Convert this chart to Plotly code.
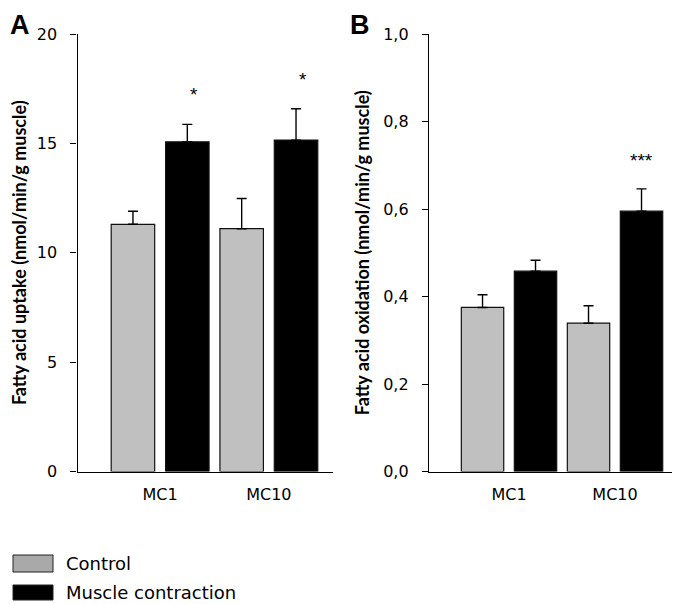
import plotly.graph_objects as go

# The page body adds an 8px margin, so the figure is sized to fit inside the window
OFF = 8
W, H = 680 - OFF, 604 - OFF

# ---- data ----
categories = ["MC1", "MC10"]
series_names = ["Control", "Muscle contraction"]
series_colors = ["#c0c0c0", "#000000"]

uptake_control = [11.3, 11.1]
uptake_control_err = [0.6, 1.38]
uptake_mc = [15.07, 15.15]
uptake_mc_err = [0.8, 1.43]
uptake_sig = ["*", "*"]

oxid_control = [0.375, 0.339]
oxid_control_err = [0.029, 0.040]
oxid_mc = [0.458, 0.595]
oxid_mc_err = [0.025, 0.051]
oxid_sig = ["", "***"]

uptake_ticks = [0, 5, 10, 15, 20]
oxid_ticks = [0.0, 0.2, 0.4, 0.6, 0.8, 1.0]
oxid_ticktext = ["0,0", "0,2", "0,4", "0,6", "0,8", "1,0"]


def px(x):
    return max(0.0, (x - OFF) / W)


def py(y):
    return min(1.0, 1 - (y - OFF) / H)


fig = go.Figure()

panels = [
    ("x", "y", uptake_control, uptake_control_err, uptake_mc, uptake_mc_err),
    ("x2", "y2", oxid_control, oxid_control_err, oxid_mc, oxid_mc_err),
]
for i, (xa, ya, c, ce, m, me) in enumerate(panels):
    for name, color, vals, errs in [
        (series_names[0], series_colors[0], c, ce),
        (series_names[1], series_colors[1], m, me),
    ]:
        fig.add_trace(go.Bar(
            x=categories, y=vals, name=name, xaxis=xa, yaxis=ya,
            marker=dict(color=color, line=dict(color="#111111", width=1.2)),
            error_y=dict(type="data", symmetric=False, array=errs,
                         arrayminus=[0] * len(errs), color="#000000",
                         thickness=1.4, width=5),
            showlegend=False,
        ))

fig.update_layout(
    width=W, height=H,
    margin=dict(l=0, r=0, t=0, b=0, autoexpand=False),
    paper_bgcolor="white", plot_bgcolor="white",
    barmode="group", bargap=0.0, bargroupgap=0.2,
    font=dict(family="Liberation Sans, Arial", color="#000000"),
)

ydom = [py(471.5), py(34)]
axis_common = dict(showline=True, linecolor="#000000", linewidth=1.3,
                   showgrid=False, zeroline=False, automargin=False)
ytickfont = dict(family="DejaVu Sans", size=16)

fig.update_layout(
    xaxis=dict(domain=[px(77.5), px(333)], range=[-0.76, 1.59], anchor="y",
               ticks="", tickfont=dict(family="DejaVu Sans", size=16),
               ticklabelstandoff=8, **axis_common),
    yaxis=dict(domain=ydom, range=[0, 20], anchor="x",
               tickvals=uptake_ticks, ticks="outside", ticklen=6, tickwidth=1.3,
               tickcolor="#000000", tickfont=ytickfont,
               ticklabelstandoff=10,
               title=dict(text="<b>Fatty acid uptake (nmol/min/g muscle)</b>",
                          font=dict(family="Lato", size=18), standoff=14),
               **axis_common),
    xaxis2=dict(domain=[px(429), px(673)], range=[-0.755, 1.547], anchor="y2",
                ticks="", tickfont=dict(family="DejaVu Sans", size=16),
                ticklabelstandoff=8, **axis_common),
    yaxis2=dict(domain=ydom, range=[0, 1.0], anchor="x2",
                tickvals=oxid_ticks, ticktext=oxid_ticktext,
                ticks="outside", ticklen=6, tickwidth=1.3, tickcolor="#000000",
                tickfont=ytickfont, ticklabelstandoff=10,
                title=dict(text="<b>Fatty acid oxidation (nmol/min/g muscle)</b>",
                           font=dict(family="Lato", size=18), standoff=8),
                **axis_common),
)

annotations = []
# significance markers above the contraction bars
for idx, s in enumerate(uptake_sig):
    if s:
        annotations.append(dict(x=idx + 0.25, y=uptake_mc[idx] + uptake_mc_err[idx],
                                xref="x", yref="y", text=s, showarrow=False,
                                yanchor="bottom", yshift=17, xshift=7,
                                font=dict(size=19, family="Liberation Sans")))
for idx, s in enumerate(oxid_sig):
    if s:
        annotations.append(dict(x=idx + 0.25, y=oxid_mc[idx] + oxid_mc_err[idx],
                                xref="x2", yref="y2", text=s, showarrow=False,
                                yanchor="bottom", yshift=16,
                                font=dict(size=19, family="Liberation Sans")))

# panel letters
annotations.append(dict(x=px(2), y=py(0), xref="paper", yref="paper", text="<b>A</b>",
                        showarrow=False, xanchor="left", yanchor="top",
                        font=dict(size=27, family="Liberation Sans")))
annotations.append(dict(x=px(348), y=py(0), xref="paper", yref="paper", text="<b>B</b>",
                        showarrow=False, xanchor="left", yanchor="top",
                        font=dict(size=27, family="Liberation Sans")))

# legend (boxes drawn as shapes, labels from series names)
shapes = []
legend_rows = [(555, 572, 563), (585, 600, 592)]
for (y0, y1, yc), name, color in zip(legend_rows, series_names,
                                     ["#a9a9a9", series_colors[1]]):
    shapes.append(dict(type="rect", xref="paper", yref="paper",
                       x0=px(13), x1=px(53), y0=py(y1), y1=py(y0),
                       fillcolor=color, line=dict(color="#222222", width=1)))
    annotations.append(dict(x=px(64), y=py(yc), xref="paper", yref="paper",
                            text=name, showarrow=False, xanchor="left",
                            yanchor="middle",
                            font=dict(size=18, family="DejaVu Sans")))

fig.update_layout(annotations=annotations, shapes=shapes)

fig.write_html("out.html")
